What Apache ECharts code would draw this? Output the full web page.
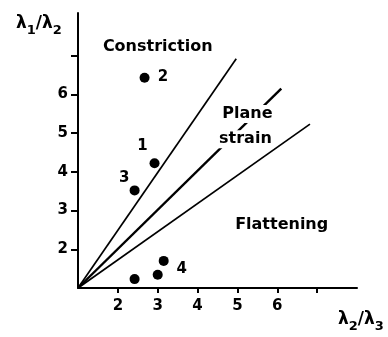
<!DOCTYPE html>
<html><head><meta charset="utf-8">
<script src="https://cdn.jsdelivr.net/npm/echarts@6/dist/echarts.min.js"></script>
<style>html,body{margin:0;padding:0;background:#fff}#c{width:388px;height:337px}</style>
</head><body><div id="c"></div>
<script>
// Data
const xTicks = [2, 3, 4, 5, 6, 7];
const xTickLabels = [2, 3, 4, 5, 6];
const yTicks = [2, 3, 4, 5, 6, 7];
const yTickLabels = [2, 3, 4, 5, 6];
const lineConstriction = [[1, 1], [4.97, 6.92]];
const linePlane = [[1, 1], [6.1, 6.15]];
const lineFlattening = [[1, 1], [6.82, 5.23]];
const samples = [
  [2.67, 6.43], [2.92, 4.22], [2.42, 3.52],
  [3.15, 1.70], [3.0, 1.34], [2.42, 1.23]
];
const sampleLabels = [
  {name: '2', pos: [3.13, 6.45]},
  {name: '1', pos: [2.62, 4.66]},
  {name: '3', pos: [2.16, 3.83]},
  {name: '4', pos: [3.6, 1.5]}
];
const regionLabels = [
  {name: 'Constriction', pos: [3.0, 7.23]},
  {name: 'Plane', pos: [5.25, 5.49]},
  {name: 'strain', pos: [5.2, 4.84]},
  {name: 'Flattening', pos: [6.11, 2.64]}
];

const FONT = 'DejaVu Sans';
const chart = echarts.init(document.getElementById('c'));
const lineStyle = w => ({color: '#000', width: w});
const axisRich = {
  a: {fontFamily: FONT, fontSize: 17, fontWeight: 'bold', fill: '#000', verticalAlign: 'top'},
  s: {fontFamily: FONT, fontSize: 13, fontWeight: 'bold', fill: '#000', padding: [9, 0, 0, 0], verticalAlign: 'top'}
};
chart.setOption({
  animation: false,
  grid: {left: 78, right: 31, top: 13, bottom: 49, containLabel: false},
  xAxis: {
    type: 'value', min: 1, max: 8, interval: 1,
    splitLine: {show: false},
    axisLine: {lineStyle: {color: '#000', width: 2}},
    axisTick: {show: true, length: 5, lineStyle: {color: '#000', width: 2}, customValues: xTicks},
    axisLabel: {customValues: xTickLabels, color: '#000', fontFamily: FONT, fontWeight: 'bold', fontSize: 15, margin: 11}
  },
  yAxis: {
    type: 'value', min: 1, max: 8.1, interval: 1,
    splitLine: {show: false},
    axisLine: {lineStyle: {color: '#000', width: 2}},
    axisTick: {show: true, length: 7, lineStyle: {color: '#000', width: 2}, customValues: yTicks},
    axisLabel: {customValues: yTickLabels, color: '#000', fontFamily: FONT, fontWeight: 'bold', fontSize: 15, margin: 10}
  },
  graphic: [
    {type: 'text', left: 16, top: 15, style: {text: '{a|λ}{s|1}{a|/λ}{s|2}', rich: axisRich}},
    {type: 'text', left: 338, top: 311, style: {text: '{a|λ}{s|2}{a|/λ}{s|3}', rich: axisRich}}
  ],
  series: [
    {type: 'line', data: lineConstriction, symbol: 'none', lineStyle: lineStyle(1.7), z: 2},
    {type: 'line', data: linePlane, symbol: 'none', lineStyle: lineStyle(2.4), z: 2},
    {type: 'line', data: lineFlattening, symbol: 'none', lineStyle: lineStyle(1.7), z: 2},
    {type: 'scatter', data: samples, symbol: 'circle', symbolSize: 10, itemStyle: {color: '#000', opacity: 1}, z: 3},
    {type: 'scatter', data: sampleLabels.map(d => ({value: d.pos, name: d.name})), symbolSize: 0, z: 4,
      itemStyle: {opacity: 1},
      label: {show: true, position: 'inside', formatter: '{b}', color: '#000', fontFamily: FONT, fontWeight: 'bold', fontSize: 15}},
    {type: 'scatter', data: regionLabels.map(d => ({value: d.pos, name: d.name})), symbolSize: 0, z: 5,
      itemStyle: {opacity: 1},
      label: {show: true, position: 'inside', formatter: '{b}', color: '#000', fontFamily: FONT, fontWeight: 'bold', fontSize: 16,
        backgroundColor: '#fff', padding: [1, 2]}}
  ]
});
</script></body></html>
